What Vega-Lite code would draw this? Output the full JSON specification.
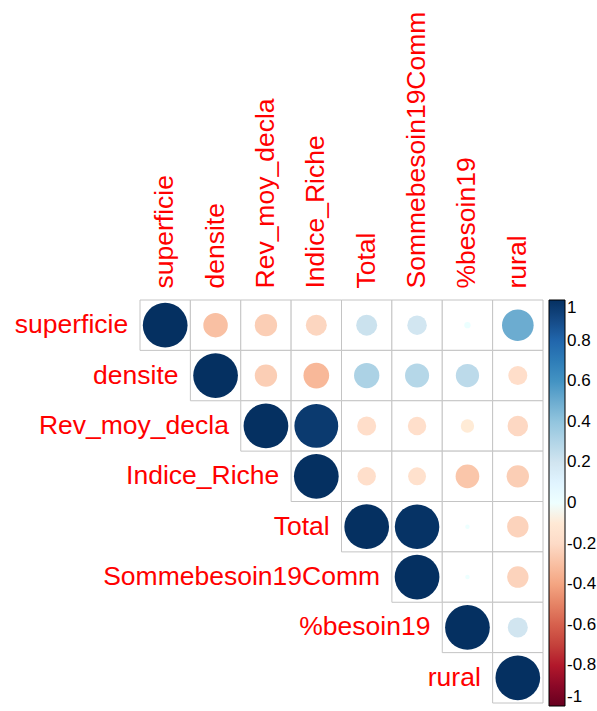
{
  "$schema": "https://vega.github.io/schema/vega-lite/v6.json",
  "autosize": {"type": "none"},
  "padding": {"left": 140, "top": 300, "right": 54, "bottom": 8},
  "width": 403,
  "height": 403,
  "config": {"view": {"stroke": null}, "font": "Liberation Sans"},
  "data": {"values": [
    {"a": "superficie", "b": "superficie", "r": 1},
    {"a": "superficie", "b": "densite", "r": -0.3},
    {"a": "superficie", "b": "Rev_moy_decla", "r": -0.25},
    {"a": "superficie", "b": "Indice_Riche", "r": -0.22},
    {"a": "superficie", "b": "Total", "r": 0.22},
    {"a": "superficie", "b": "Sommebesoin19Comm", "r": 0.19},
    {"a": "superficie", "b": "%besoin19", "r": 0.02},
    {"a": "superficie", "b": "rural", "r": 0.5},
    {"a": "densite", "b": "densite", "r": 1},
    {"a": "densite", "b": "Rev_moy_decla", "r": -0.25},
    {"a": "densite", "b": "Indice_Riche", "r": -0.33},
    {"a": "densite", "b": "Total", "r": 0.32},
    {"a": "densite", "b": "Sommebesoin19Comm", "r": 0.29},
    {"a": "densite", "b": "%besoin19", "r": 0.27},
    {"a": "densite", "b": "rural", "r": -0.18},
    {"a": "Rev_moy_decla", "b": "Rev_moy_decla", "r": 1},
    {"a": "Rev_moy_decla", "b": "Indice_Riche", "r": 0.96},
    {"a": "Rev_moy_decla", "b": "Total", "r": -0.18},
    {"a": "Rev_moy_decla", "b": "Sommebesoin19Comm", "r": -0.17},
    {"a": "Rev_moy_decla", "b": "%besoin19", "r": -0.09},
    {"a": "Rev_moy_decla", "b": "rural", "r": -0.21},
    {"a": "Indice_Riche", "b": "Indice_Riche", "r": 1},
    {"a": "Indice_Riche", "b": "Total", "r": -0.17},
    {"a": "Indice_Riche", "b": "Sommebesoin19Comm", "r": -0.16},
    {"a": "Indice_Riche", "b": "%besoin19", "r": -0.28},
    {"a": "Indice_Riche", "b": "rural", "r": -0.25},
    {"a": "Total", "b": "Total", "r": 1},
    {"a": "Total", "b": "Sommebesoin19Comm", "r": 0.99},
    {"a": "Total", "b": "%besoin19", "r": 0.01},
    {"a": "Total", "b": "rural", "r": -0.23},
    {"a": "Sommebesoin19Comm", "b": "Sommebesoin19Comm", "r": 1},
    {"a": "Sommebesoin19Comm", "b": "%besoin19", "r": 0.01},
    {"a": "Sommebesoin19Comm", "b": "rural", "r": -0.23},
    {"a": "%besoin19", "b": "%besoin19", "r": 1},
    {"a": "%besoin19", "b": "rural", "r": 0.2},
    {"a": "rural", "b": "rural", "r": 1}
  ]},
  "layer": [
    {
      "mark": {"type": "rect", "fill": "white", "stroke": "#C4C4C4", "strokeWidth": 1},
      "encoding": {
        "x": {"field": "b", "type": "nominal", "scale": {"domain": ["superficie","densite","Rev_moy_decla","Indice_Riche","Total","Sommebesoin19Comm","%besoin19","rural"], "paddingInner": 0, "paddingOuter": 0},
          "axis": {"orient": "top", "title": null, "labelAngle": -90, "labelAlign": "left", "labelBaseline": "middle", "labelColor": "red", "labelFontSize": 26.5, "labelPadding": 12, "labelLimit": 0, "ticks": false, "domain": false, "labelFont": "Liberation Sans"}},
        "y": {"field": "a", "type": "nominal", "scale": {"domain": ["superficie","densite","Rev_moy_decla","Indice_Riche","Total","Sommebesoin19Comm","%besoin19","rural"], "paddingInner": 0, "paddingOuter": 0}, "axis": null}
      }
    },
    {
      "mark": {"type": "point", "filled": true, "shape": "circle", "opacity": 1},
      "encoding": {
        "x": {"field": "b", "type": "nominal"},
        "y": {"field": "a", "type": "nominal"},
        "size": {"field": "r", "type": "quantitative", "scale": {"domain": [-1, 0, 1], "range": [2000, 0, 2000]}, "legend": null},
        "color": {"field": "r", "type": "quantitative",
          "scale": {"domain": [-1, -0.8, -0.6, -0.4, -0.2, 0, 0.2, 0.4, 0.6, 0.8, 1],
                    "range": ["#67001F","#B2182B","#D6604D","#F4A582","#FDDBC7","#FFFFFF","#D1E5F0","#92C5DE","#4393C3","#2166AC","#053061"]},
          "legend": {"title": null, "orient": "right", "offset": 6, "direction": "vertical", "gradientLength": 406, "gradientThickness": 16, "gradientStrokeColor": "black", "gradientStrokeWidth": 1,
            "values": [-1, -0.8, -0.6, -0.4, -0.2, 0, 0.2, 0.4, 0.6, 0.8, 1], "format": ".1~f", "labelExpr": "replace(datum.label, '\u2212', '-')", "labelFontSize": 17, "labelColor": "black", "labelOffset": 2, "labelLimit": 0, "labelFont": "Liberation Sans", "labelOverlap": false}}
      }
    },
    {
      "transform": [{"filter": "datum.a === datum.b"}],
      "mark": {"type": "text", "align": "right", "baseline": "middle", "dx": -37, "fontSize": 26.5, "color": "red", "font": "Liberation Sans"},
      "encoding": {
        "x": {"field": "a", "type": "nominal"},
        "y": {"field": "a", "type": "nominal"},
        "text": {"field": "a"}
      }
    }
  ]
}
